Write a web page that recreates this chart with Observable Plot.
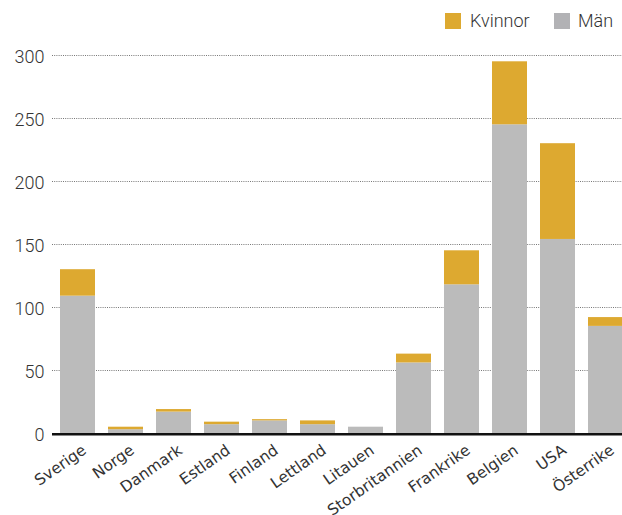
<!DOCTYPE html>
<html>
<head>
<meta charset="utf-8">
<script src="https://cdn.jsdelivr.net/npm/d3@7"></script>
<script src="https://cdn.jsdelivr.net/npm/@observablehq/plot@0.6"></script>
<style>
  html, body { margin: 0; padding: 0; background: #fff; }
  #wrap { position: relative; width: 622px; height: 515px; overflow: hidden; }
  #legend { position: absolute; top: 0; left: 0; width: 622px; height: 40px; font-family: Roboto, sans-serif; font-weight: 300; font-size: 18px; color: #333; }
  .sw { position: absolute; top: 13px; width: 16px; height: 16px; }
  .lt { position: absolute; top: 10px; line-height: 22px; }
</style>
</head>
<body>
<div id="wrap">
  <div id="chart"></div>
  <div id="legend"></div>
</div>
<script>
const countries = ["Sverige","Norge","Danmark","Estland","Finland","Lettland","Litauen","Storbritannien","Frankrike","Belgien","USA","Österrike"];
const man = [109, 3, 17, 7, 10, 7, 5, 56, 118, 245, 154, 85];
const kvinnor = [21, 2, 2, 2, 1, 3, 0, 7, 27, 50, 76, 7];
const seriesNames = ["Män", "Kvinnor"];
const seriesColors = ["#bbbbbb", "#dda930"];
const legendColors = ["#dda930", "#b2b2b5"];
const legendNames = ["Kvinnor", "Män"];
const yTicks = [0, 50, 100, 150, 200, 250, 300];
const gridTicks = [50, 100, 150, 200, 250, 300];

const rows = [];
countries.forEach((c, i) => rows.push({land: c, kon: "Män", value: man[i]}));
countries.forEach((c, i) => rows.push({land: c, kon: "Kvinnor", value: kvinnor[i]}));

const chart = Plot.plot({
  width: 622,
  height: 515,
  marginTop: 55,
  marginBottom: 82,
  marginLeft: 52,
  marginRight: 0,
  style: {background: "transparent", overflow: "visible"},
  x: {domain: countries, range: [47, 636], padding: 0.27, axis: null},
  y: {domain: [0, 300], axis: null},
  color: {domain: seriesNames, range: seriesColors},
  marks: [
    Plot.ruleY(gridTicks, {stroke: "#777", strokeDasharray: "1,1.2", strokeWidth: 1}),
    Plot.ruleY([0], {stroke: "#111", strokeWidth: 2.5, dy: 0.8}),
    Plot.barY(rows, {x: "land", y: "value", fill: "kon", order: seriesNames}),
    Plot.axisY({ticks: yTicks, tickSize: 0, tickPadding: 8, label: null, fontSize: 18, fontFamily: "Roboto", fontWeight: 300, fill: "#333", dy: 2}),
    Plot.text(countries, {x: d => d, frameAnchor: "bottom", text: d => d, rotate: -35, textAnchor: "end", lineAnchor: "top", dx: 3, dy: 10, fontSize: 15.5, fontFamily: "DejaVu Sans", fill: "#333"})
  ]
});
document.getElementById("chart").appendChild(chart);

const legend = document.getElementById("legend");
const legendPos = [[445, 470], [554, 578]];
legendNames.forEach((n, i) => {
  const sw = document.createElement("div");
  sw.className = "sw";
  sw.style.left = legendPos[i][0] + "px";
  sw.style.background = legendColors[i];
  legend.appendChild(sw);
  const t = document.createElement("div");
  t.className = "lt";
  t.style.left = legendPos[i][1] + "px";
  t.textContent = n;
  legend.appendChild(t);
});
</script>
</body>
</html>
